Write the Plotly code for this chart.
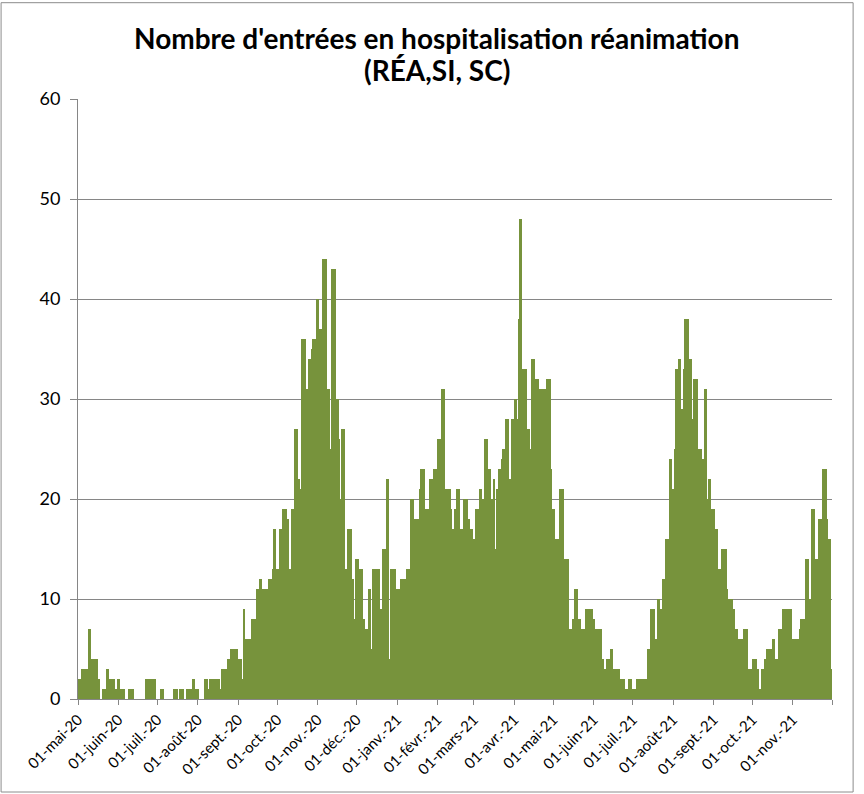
import pandas as pd
import plotly.graph_objects as go

# Daily ICU admissions, one list per month
may20 = [2,2,2,3,3,3,3,3,7,7,4,4,4,4,4,2,2,0,0,1,1,1,3,3,2,2,2,2,1,1,2]
jun20 = [2,1,1,1,1,0,0,0,1,1,1,1,0,0,0,0,0,0,0,0,0,2,2,2,0,2,2,2,2,0]
jul20 = [0,0,1,1,1,0,0,0,0,0,0,0,1,1,1,1,0,1,1,1,0,0,1,1,1,1,1,2,2,1,1]
aug20 = [1,0,0,0,0,2,2,2,1,2,2,2,1,2,2,2,2,1,3,3,3,3,3,4,4,5,5,5,5,5,5]
sep20 = [4,4,4,2,9,6,6,6,6,6,8,8,8,8,11,11,12,12,11,11,11,11,11,12,12,12,13,17,17,13]
oct20 = [13,13,17,17,19,19,19,18,18,13,13,19,19,27,27,27,22,21,21,36,36,36,31,31,34,34,35,36,36,36,40]
nov20 = [40,37,37,37,44,44,44,31,31,25,25,43,43,43,30,30,26,20,27,27,27,13,13,17,17,17,12,12,8,14]
dec20 = [14,14,13,13,13,8,7,7,7,11,11,5,13,13,13,13,13,13,9,9,15,15,15,22,22,4,13,13,13,13,11]
jan21 = [11,11,9,12,12,12,12,13,13,13,20,20,20,18,18,18,18,21,23,23,23,19,19,19,19,22,22,22,23,23,23]
feb21 = [26,26,26,31,31,31,21,21,21,21,19,17,17,19,19,21,21,17,17,17,20,20,20,18,18,17,17,16]
mar21 = [16,19,19,19,21,21,20,20,26,26,26,23,23,20,20,22,15,21,21,23,23,24,25,25,28,28,28,22,22,28,28]
apr21 = [30,30,28,38,48,48,33,33,33,33,27,27,25,34,34,34,32,32,32,31,31,31,31,31,18,32,32,32,23,19]
may21 = [19,16,16,16,16,21,21,21,14,14,14,14,7,7,7,8,11,11,11,8,8,5,7,7,7,9,9,9,9,9,8]
jun21 = [8,7,7,7,7,7,4,4,3,3,4,4,4,5,5,3,3,3,3,3,2,2,2,2,1,1,1,2,2,1]
jul21 = [1,1,1,2,2,2,2,2,2,2,2,5,5,5,9,9,9,6,6,10,10,9,9,12,12,16,16,16,24,24,21]
aug21 = [21,25,33,33,34,34,29,29,33,38,38,38,34,34,21,28,32,32,32,25,25,25,24,24,31,31,20,22,22,19,19]
sep21 = [19,17,17,13,13,13,15,15,15,15,11,10,10,10,10,9,7,7,7,6,6,6,6,7,7,7,3,3,3,3]
oct21 = [4,4,4,3,3,1,1,3,3,4,4,5,5,5,5,6,6,4,4,2,7,7,7,9,9,9,6,9,9,9,3]
nov21 = [6,6,6,6,6,7,8,8,8,8,14,14,10,10,19,19,19,14,14,14,18,18,18,23,23,23,18,16,16,3]

months = [may20, jun20, jul20, aug20, sep20, oct20, nov20, dec20, jan21, feb21,
          mar21, apr21, may21, jun21, jul21, aug21, sep21, oct21, nov21]
values = [v for m in months for v in m]

start_date = "2020-05-01"
dates = pd.date_range(start_date, periods=len(values), freq="D")

tick_labels = ["01-mai-20", "01-juin-20", "01-juil.-20", "01-août-20", "01-sept.-20",
               "01-oct.-20", "01-nov.-20", "01-déc.-20", "01-janv.-21", "01-févr.-21",
               "01-mars-21", "01-avr.-21", "01-mai-21", "01-juin-21", "01-juil.-21",
               "01-août-21", "01-sept.-21", "01-oct.-21", "01-nov.-21", ""]
tick_dates = pd.date_range(start_date, periods=len(tick_labels), freq="MS")

title_line1 = "Nombre d'entrées en hospitalisation réanimation"
title_line2 = "(RÉA,SI, SC)"

bar_color = "#77933C"
grid_color = "#868686"
font_family = "Lato, 'Open Sans', sans-serif"

fig = go.Figure(
    go.Bar(
        x=dates + pd.Timedelta(hours=12),
        y=values,
        marker=dict(color=bar_color, line=dict(width=0)),
        hoverinfo="x+y",
    )
)

fig.update_layout(
    width=864,
    height=794,
    margin=dict(l=78, r=32, t=99, b=95),
    paper_bgcolor="white",
    plot_bgcolor="white",
    bargap=0,
    showlegend=False,
    font=dict(family=font_family, color="#000000"),
    annotations=[
        dict(text="<b>" + title_line1 + "</b>", xref="paper", yref="paper",
             x=0.4761, y=1.1017, xanchor="center", yanchor="middle", showarrow=False,
             font=dict(size=28, family=font_family, color="#000000")),
        dict(text="<b>" + title_line2 + "</b>", xref="paper", yref="paper",
             x=0.4761, y=1.0483, xanchor="center", yanchor="middle", showarrow=False,
             font=dict(size=28, family=font_family, color="#000000")),
    ],
    shapes=[
        dict(type="rect", xref="paper", yref="paper",
             x0=-0.102, x1=1.028, y0=-0.155, y1=1.1605,
             line=dict(color="#8c8c8c", width=1), fillcolor="rgba(0,0,0,0)", layer="below"),
    ],
)

fig.update_xaxes(
    type="date",
    range=[tick_dates[0], tick_dates[-1]],
    tickmode="array",
    tickvals=tick_dates,
    ticktext=tick_labels,
    tickangle=-45,
    tickfont=dict(size=15, family=font_family, color="#000000"),
    ticks="outside",
    ticklen=5,
    tickcolor=grid_color,
    showline=True,
    linecolor=grid_color,
    linewidth=1,
    showgrid=False,
    zeroline=False,
    automargin=False,
)

fig.update_yaxes(
    range=[0, 60],
    dtick=10,
    tick0=0,
    tickfont=dict(size=18, family=font_family, color="#000000"),
    ticks="outside",
    ticklen=7,
    tickcolor=grid_color,
    showline=True,
    linecolor=grid_color,
    linewidth=1,
    showgrid=True,
    gridcolor=grid_color,
    gridwidth=1,
    zeroline=False,
    ticklabelstandoff=6,
    automargin=False,
)

fig.write_html("out.html", config={"displayModeBar": False},
               post_script="document.body.style.margin='0';")
